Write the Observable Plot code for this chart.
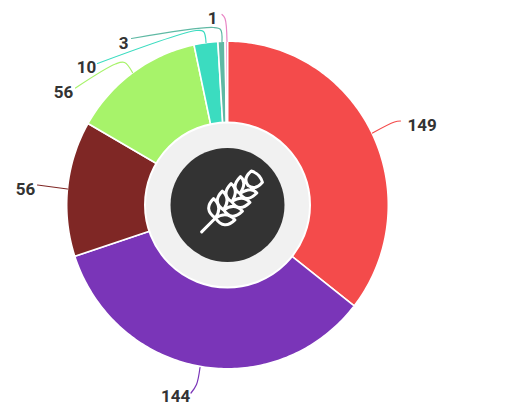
<!DOCTYPE html>
<html><head><meta charset="utf-8">
<style>html,body{margin:0;padding:0;background:#fff}svg{display:block}</style>
<script src="https://cdn.jsdelivr.net/npm/d3@7"></script>
<script src="https://cdn.jsdelivr.net/npm/@observablehq/plot@0.6"></script>
</head><body><script>
const names = ["a","b","c","d","e","f","g"];
const values = [149,144,56,56,10,3,1];
const colors = ["#f44b4b","#7a35b8","#7f2725","#a7f36a","#3bdcc0","#5fb9a4","#e884c4"];
const labels = ["149","144","56","56","10","3","1"];
const labelX = [421.5,175,25,63,86,123,212];
const labelY = [125,396,189,92,67,43,18];
const leaders = [
 [[372,132.5],[394,121.5],[400,120.5]],
 [[199.5,367],[196,384],[190.5,392.5]],
 [[67,188.5],[37,184.5]],
 [[132,72],[124,62],[115,63.5],[75,87.5]],
 [[205.5,42],[203,31],[196,30],[97,63]],
 [[221.5,41],[220,29],[213,27],[131,38]],
 [[226.5,41],[224.5,18],[221.5,14]]
];
const W=528,H=405,cx=227,cy=204.5,R=160.8,Ry=163.8;
const total=d3.sum(values);
const segs=[];let acc=0;
values.forEach((v,i)=>{
  const a0=acc/total*2*Math.PI, a1=(acc+v)/total*2*Math.PI; acc+=v;
  const n=Math.max(2,Math.ceil((a1-a0)*60));
  segs.push({s:names[i],x:cx,y:cy});
  for(let k=0;k<=n;k++){const a=a0+(a1-a0)*k/n;segs.push({s:names[i],x:cx+R*Math.sin(a),y:cy-Ry*Math.cos(a)});}
});
const leaderRows=leaders.flatMap((p,i)=>p.map(([x,y])=>({s:names[i],x,y})));
const labelRows=labels.map((t,i)=>({t,x:labelX[i],y:labelY[i]}));
// wheat icon as a custom symbol, axis along +x in local units, rotated -45deg
const wheat={draw(c,size){
  const u=Math.sqrt(size)/100;
  const rot=(x,y)=>[(x+y)*Math.SQRT1_2*u,(y-x)*Math.SQRT1_2*u];
  const M=(x,y)=>c.moveTo(...rot(x,y));
  const Q=(a,b,x,y)=>c.quadraticCurveTo(...rot(a,b),...rot(x,y));
  const L=(x,y)=>c.lineTo(...rot(x,y));
  M(-46,0);L(-22,0);
  [[-24,17],[-11,16],[2,15],[15,13]].forEach(([s,w])=>{
    for(const d of [1,-1]){
      M(s,0);
      Q(s-3,d*w,s+14,d*w);
      Q(s+15,d*3,s,0);
    }
  });
  M(28,0);Q(29,-10,42,-9);Q(47,0,42,9);Q(29,10,28,0);
}};
const plot=Plot.plot({
  width:W,height:H,margin:0,
  x:{domain:[0,W],range:[0,W],axis:null},
  y:{domain:[0,H],range:[0,H],axis:null},
  color:{domain:names,range:colors},
  marks:[
    Plot.line(segs,{x:"x",y:"y",z:"s",fill:"s",stroke:"#fff",strokeWidth:1.6,curve:"linear-closed"}),
    Plot.line(leaderRows,{x:"x",y:"y",z:"s",stroke:"s",strokeWidth:1.2,curve:"catmull-rom"}),
    Plot.dot([0],{x:()=>cx,y:()=>cy,r:82.5,fill:"#f1f1f1",stroke:"#fff",strokeWidth:2}),
    Plot.dot([0],{x:()=>cx,y:()=>cy,r:57,fill:"#333"}),
    Plot.dot([0],{x:()=>cx,y:()=>cy,dx:3,dy:-2,r:50,symbol:wheat,fill:"none",stroke:"#fff",strokeWidth:3,strokeLinecap:"round",strokeLinejoin:"round"}),
    Plot.text(labelRows,{x:"x",y:"y",text:"t",fontSize:17,fontWeight:700,fontFamily:"Roboto",fill:"#333"})
  ]
});
document.body.appendChild(plot);
</script></body></html>
